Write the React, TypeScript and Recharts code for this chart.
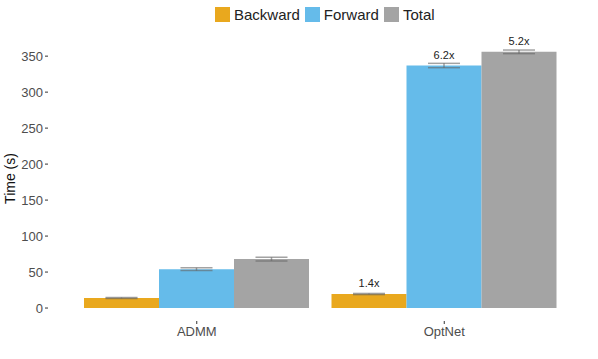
import { BarChart, Bar, XAxis, YAxis, Legend, ErrorBar, LabelList } from "recharts";

const categories = ["ADMM", "OptNet"];
const backward = [14, 19.5];
const forward = [54, 337];
const total = [68, 356];
const backwardErr = [0.6, 0.8];
const forwardErr = [2, 3];
const totalErr = [2.5, 2.5];
const backwardLabel = ["", "1.4x"];
const forwardLabel = ["", "6.2x"];
const totalLabel = ["", "5.2x"];
const yTicks = [0, 50, 100, 150, 200, 250, 300, 350];

const COLORS = {
  backward: "#E9A81E",
  forward: "#65BBEA",
  total: "#A4A4A4",
};

const FONT = "'Liberation Sans', Arial, Helvetica, sans-serif";

const data = categories.map((c, i) => ({
  category: c,
  Backward: backward[i],
  Forward: forward[i],
  Total: total[i],
  backwardErr: backwardErr[i],
  forwardErr: forwardErr[i],
  totalErr: totalErr[i],
  backwardLabel: backwardLabel[i],
  forwardLabel: forwardLabel[i],
  totalLabel: totalLabel[i],
}));

const legendItems = [
  { name: "Backward", color: COLORS.backward },
  { name: "Forward", color: COLORS.forward },
  { name: "Total", color: COLORS.total },
];

function renderLegend() {
  return (
    <div style={{ display: "flex", alignItems: "center", paddingLeft: 215, fontFamily: FONT, fontSize: 15, color: "#222" }}>
      {legendItems.map((item) => (
        <div key={item.name} style={{ display: "flex", alignItems: "center", marginRight: 5 }}>
          <span style={{ width: 15, height: 15, background: item.color, display: "inline-block", marginRight: 4 }} />
          <span>{item.name}</span>
        </div>
      ))}
    </div>
  );
}

const renderBarLabel = (props: any) => {
  const { x, y, width, value } = props;
  if (!value) return null;
  return (
    <text x={x + width / 2} y={y - 7} textAnchor="middle" fontSize={11} fill="#222" fontFamily={FONT}>
      {value}
    </text>
  );
};

export default function App() {
  return (
    <div style={{ position: "absolute", left: 0, top: 0, background: "#fff" }}>
      <BarChart
        width={598}
        height={359}
        data={data}
        margin={{ top: 10, right: 5, bottom: 18, left: 0 }}
        barCategoryGap={11}
        barGap={0}
      >
        <XAxis
          dataKey="category"
          height={20}
          axisLine={false}
          tickLine={{ stroke: "#333" }}
          tickSize={3}
          tickMargin={3}
          padding={{ left: 25, right: 25 }}
          tick={{ fontSize: 13, fill: "#4d4d4d", fontFamily: FONT }}
        />
        <YAxis
          width={48}
          domain={[-18, 378]}
          ticks={yTicks}
          axisLine={false}
          tickLine={{ stroke: "#333" }}
          tickSize={3}
          tickMargin={2}
          tick={{ fontSize: 13, fill: "#4d4d4d", fontFamily: FONT }}
          label={{
            value: "Time (s)",
            angle: -90,
            position: "insideLeft",
            offset: 10,
            style: { textAnchor: "middle", fontSize: 14, fill: "#111", fontFamily: FONT },
          }}
        />
        <Legend verticalAlign="top" height={26} content={renderLegend} wrapperStyle={{ top: 6 }} />
        <Bar dataKey="Backward" fill={COLORS.backward} isAnimationActive={false}>
          <ErrorBar dataKey="backwardErr" width={16} stroke="#666" strokeOpacity={0.6} />
          <LabelList dataKey="backwardLabel" content={renderBarLabel} />
        </Bar>
        <Bar dataKey="Forward" fill={COLORS.forward} isAnimationActive={false}>
          <ErrorBar dataKey="forwardErr" width={16} stroke="#666" strokeOpacity={0.6} />
          <LabelList dataKey="forwardLabel" content={renderBarLabel} />
        </Bar>
        <Bar dataKey="Total" fill={COLORS.total} isAnimationActive={false}>
          <ErrorBar dataKey="totalErr" width={16} stroke="#666" strokeOpacity={0.6} />
          <LabelList dataKey="totalLabel" content={renderBarLabel} />
        </Bar>
      </BarChart>
    </div>
  );
}
